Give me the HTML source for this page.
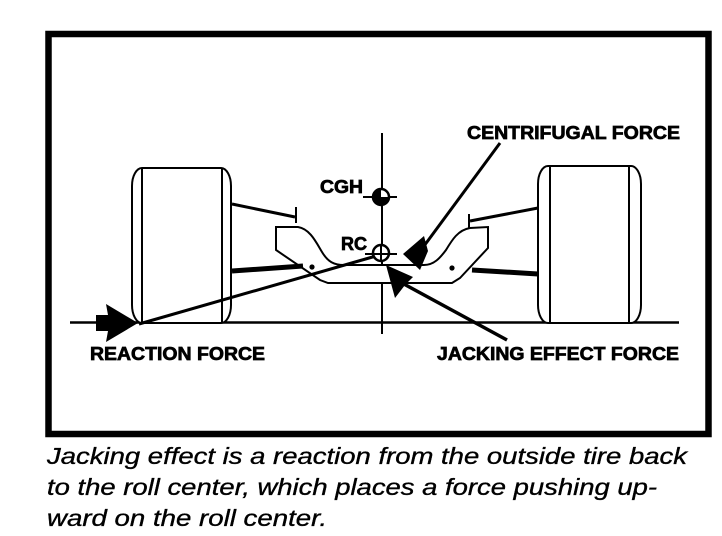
<!DOCTYPE html>
<html>
<head>
<meta charset="utf-8">
<style>
  html, body { margin: 0; padding: 0; background: #fff; }
  body { width: 722px; height: 536px; overflow: hidden; }
  svg { display: block; }
  .lbl { font-family: "Liberation Sans", Arial, sans-serif; font-weight: bold; fill: #000; stroke: #000; stroke-width: 0.7; }
  .cap { font-family: "Liberation Sans", Arial, sans-serif; font-style: italic; fill: #000; stroke: #000; stroke-width: 0.35; }
</style>
</head>
<body>
<svg width="722" height="536" viewBox="0 0 722 536" xmlns="http://www.w3.org/2000/svg">
  <rect x="0" y="0" width="722" height="536" fill="#fff"/>

  <!-- frame box -->
  <rect x="48.5" y="34" width="660" height="400" fill="none" stroke="#000" stroke-width="6.5"/>

  <!-- ground line -->
  <line x1="70" y1="322.5" x2="679" y2="322.5" stroke="#000" stroke-width="2.5"/>

  <!-- vertical centerline -->
  <line x1="382" y1="133" x2="382" y2="334" stroke="#000" stroke-width="2"/>

  <!-- left tire -->
  <rect x="132" y="168" width="99" height="155" rx="10" ry="18" fill="#fff" stroke="#000" stroke-width="2"/>
  <line x1="142" y1="168" x2="142" y2="323" stroke="#000" stroke-width="2"/>
  <line x1="222" y1="168" x2="222" y2="323" stroke="#000" stroke-width="2"/>

  <!-- right tire -->
  <rect x="538" y="166" width="103" height="157" rx="10" ry="18" fill="#fff" stroke="#000" stroke-width="2"/>
  <line x1="550" y1="166" x2="550" y2="323" stroke="#000" stroke-width="2"/>
  <line x1="629" y1="166" x2="629" y2="323" stroke="#000" stroke-width="2"/>

  <!-- upper control arms -->
  <line x1="232" y1="204" x2="295" y2="217" stroke="#000" stroke-width="3"/>
  <line x1="296" y1="207" x2="296" y2="223" stroke="#000" stroke-width="2"/>
  <line x1="538" y1="208" x2="470" y2="221" stroke="#000" stroke-width="3"/>
  <line x1="469" y1="214" x2="469" y2="228" stroke="#000" stroke-width="2"/>

  <!-- chassis -->
  <path d="M276,227 L298,227 C310,229 316,242 322,252 C328,262 334,265 344,265 L424,265 C434,265 440,258 446,250 C452,240 458,230 470,228 L488,227 L488,248 L460,278 L452,283 L328,283 L320,280 L276,250 Z"
        fill="#fff" stroke="#000" stroke-width="2"/>
  <circle cx="312" cy="267" r="2.6" fill="#000"/>
  <circle cx="452" cy="268" r="2.6" fill="#000"/>

  <!-- lower control arms -->
  <line x1="232" y1="271" x2="303" y2="266" stroke="#000" stroke-width="5"/>
  <line x1="472" y1="270" x2="538" y2="274" stroke="#000" stroke-width="5"/>

  <!-- jacking line from tire contact to RC -->
  <line x1="139" y1="324" x2="376" y2="256" stroke="#000" stroke-width="3"/>

  <!-- CGH symbol -->
  <line x1="363" y1="197" x2="397" y2="197" stroke="#000" stroke-width="2"/>
  <circle cx="381" cy="197" r="8" fill="#fff" stroke="#000" stroke-width="2.5"/>
  <path d="M381,197 L381,189 A8,8 0 0 0 373,197 Z" fill="#000"/>
  <path d="M381,197 L381,205 A8,8 0 0 0 389,197 Z" fill="#000"/>
  <path d="M381,197 L373,197 A8,8 0 0 0 381,205 Z" fill="#000"/>

  <!-- RC symbol -->
  <circle cx="381" cy="253" r="8" fill="#fff" stroke="#000" stroke-width="2.5"/>
  <line x1="365" y1="254" x2="397" y2="254" stroke="#000" stroke-width="2"/>
  <line x1="381" y1="245" x2="381" y2="262" stroke="#000" stroke-width="2"/>

  <!-- reaction force arrow -->
  <polygon points="96,315 108,315 106,304 138,323 106,342 108,331 96,331" fill="#000"/>

  <!-- centrifugal force arrow -->
  <line x1="500" y1="143" x2="424" y2="246" stroke="#000" stroke-width="3"/>
  <polygon points="403,254 424,236 428,251 420,270" fill="#000"/>

  <!-- jacking effect force arrow -->
  <line x1="402" y1="283" x2="507" y2="340" stroke="#000" stroke-width="3.5"/>
  <polygon points="386,265 413,277 405,285 395,298" fill="#000"/>

  <!-- labels -->
  <text class="lbl" x="467" y="139" font-size="18" textLength="213" lengthAdjust="spacingAndGlyphs">CENTRIFUGAL FORCE</text>
  <text class="lbl" x="320" y="193" font-size="18" textLength="43" lengthAdjust="spacingAndGlyphs">CGH</text>
  <text class="lbl" x="341" y="250" font-size="18" textLength="26" lengthAdjust="spacingAndGlyphs">RC</text>
  <text class="lbl" x="90" y="360" font-size="18" textLength="175" lengthAdjust="spacingAndGlyphs">REACTION FORCE</text>
  <text class="lbl" x="437" y="360" font-size="18" textLength="242" lengthAdjust="spacingAndGlyphs">JACKING EFFECT FORCE</text>

  <!-- caption -->
  <text class="cap" x="47" y="464" font-size="23" textLength="640" lengthAdjust="spacingAndGlyphs">Jacking effect is a reaction from the outside tire back</text>
  <text class="cap" x="47" y="495" font-size="23" textLength="610" lengthAdjust="spacingAndGlyphs">to the roll center, which places a force pushing up-</text>
  <text class="cap" x="47" y="526" font-size="23" textLength="280" lengthAdjust="spacingAndGlyphs">ward on the roll center.</text>
</svg>
</body>
</html>
